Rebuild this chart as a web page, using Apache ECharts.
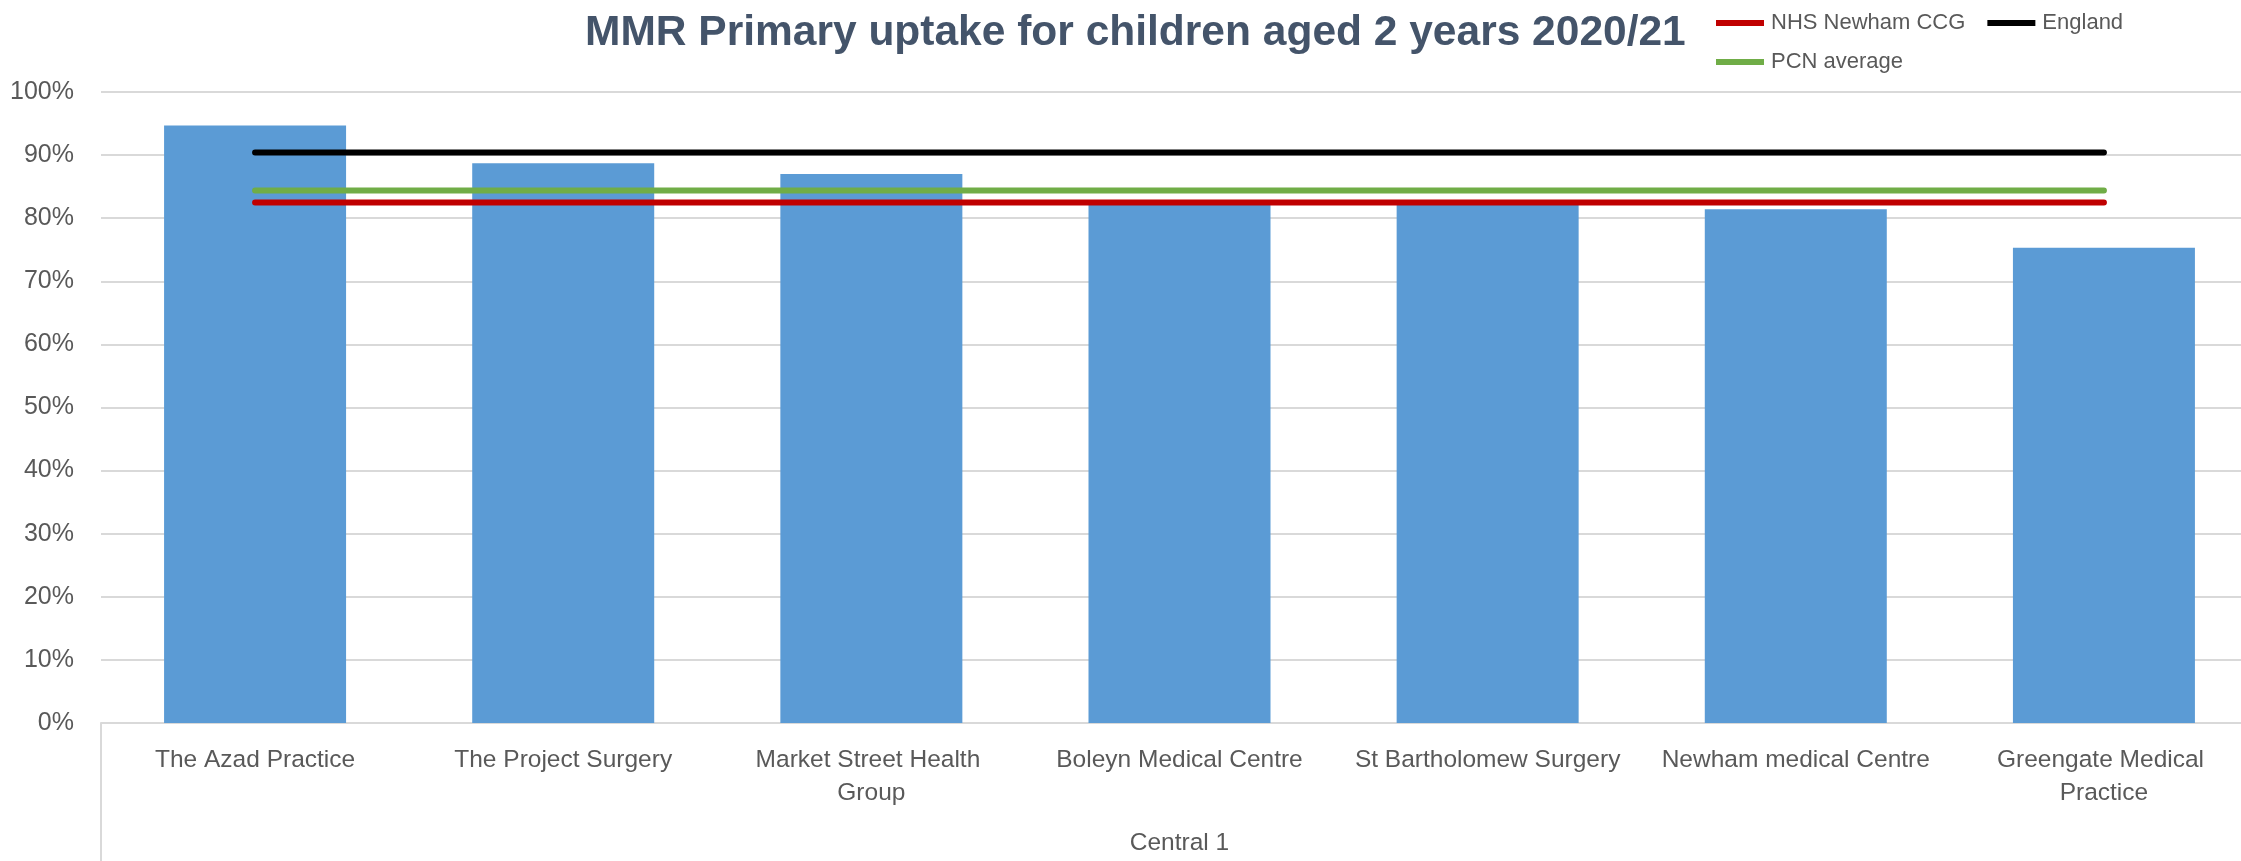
<!DOCTYPE html>
<html>
<head>
<meta charset="utf-8">
<script src="https://cdn.jsdelivr.net/npm/echarts@6/dist/echarts.min.js"></script>
<style>
  html, body { margin: 0; padding: 0; background: #ffffff; overflow: hidden; width: 2241px; height: 861px; }
  #chart { width: 2260px; height: 861px; }
</style>
</head>
<body>
<div id="chart"></div>
<script>
const titleText = 'MMR Primary uptake for children aged 2 years 2020/21';
const practices = ['The Azad Practice', 'The Project Surgery', 'Market Street Health Group', 'Boleyn Medical Centre', 'St Bartholomew Surgery', 'Newham medical Centre', 'Greengate Medical Practice'];
const groupLabels = ['Central 1'];
const uptake = [94.7, 88.7, 87.0, 82.2, 82.3, 81.4, 75.3];
const ccgValue = [82.5, 82.5, 82.5, 82.5, 82.5, 82.5, 82.5];
const englandValue = [90.4, 90.4, 90.4, 90.4, 90.4, 90.4, 90.4];
const pcnValue = [84.4, 84.4, 84.4, 84.4, 84.4, 84.4, 84.4];

const FONT = '"Liberation Sans", Arial, sans-serif';
const chart = echarts.init(document.getElementById('chart'), null, { renderer: 'canvas' });

const lineIcon = 'path://M0,0 L40,0 L40,5 L0,5 Z';

chart.setOption({
  animation: false,
  backgroundColor: '#ffffff',
  title: {
    text: titleText,
    left: 580,
    top: 7,
    textStyle: { fontFamily: FONT, fontWeight: 'bold', fontSize: 42.5, color: '#44546A' }
  },
  legend: [
    {
      data: ['NHS Newham CCG', 'England'],
      left: 1711,
      top: 7,
      icon: lineIcon,
      itemWidth: 52,
      itemHeight: 6,
      itemGap: 22,
      textStyle: { fontFamily: FONT, fontSize: 22, color: '#595959' }
    },
    {
      data: ['PCN average'],
      left: 1711,
      top: 46,
      icon: lineIcon,
      itemWidth: 52,
      itemHeight: 6,
      textStyle: { fontFamily: FONT, fontSize: 22, color: '#595959' }
    }
  ],
  grid: { left: 101, right: 2, top: 92, bottom: 138, containLabel: false },
  xAxis: [
    {
      type: 'category',
      data: practices,
      axisLine: { show: true, lineStyle: { color: '#d9d9d9', width: 2 } },
      axisTick: { show: false },
      axisLabel: {
        interval: 0,
        margin: 21,
        fontFamily: FONT,
        fontSize: 24.5,
        color: '#595959',
        width: 275,
        overflow: 'break',
        lineHeight: 33
      }
    },
    {
      type: 'category',
      data: groupLabels,
      position: 'bottom',
      axisLine: { show: false },
      axisTick: { show: true, length: 140, lineStyle: { color: '#d9d9d9', width: 2 } },
      axisLabel: { margin: 108, fontFamily: FONT, fontSize: 24.5, color: '#595959' }
    }
  ],
  yAxis: {
    type: 'value',
    min: 0,
    max: 100,
    interval: 10,
    axisLine: { show: false },
    axisTick: { show: false },
    splitLine: { lineStyle: { color: '#d9d9d9', width: 2 } },
    axisLabel: {
      margin: 27,
      fontFamily: FONT,
      fontSize: 25,
      color: '#595959',
      formatter: v => v + '%'
    }
  },
  series: [
    {
      name: 'Uptake',
      type: 'bar',
      data: uptake,
      barWidth: 182,
      itemStyle: { color: '#5B9BD5' },
      z: 1
    },
    {
      name: 'NHS Newham CCG',
      type: 'line',
      data: ccgValue,
      symbol: 'none',
      lineStyle: { color: '#C00000', width: 6, cap: 'round' },
      itemStyle: { color: '#C00000' },
      z: 3
    },
    {
      name: 'England',
      type: 'line',
      data: englandValue,
      symbol: 'none',
      lineStyle: { color: '#000000', width: 6, cap: 'round' },
      itemStyle: { color: '#000000' },
      z: 3
    },
    {
      name: 'PCN average',
      type: 'line',
      data: pcnValue,
      symbol: 'none',
      lineStyle: { color: '#70AD47', width: 6, cap: 'round' },
      itemStyle: { color: '#70AD47' },
      z: 3
    }
  ]
});
</script>
</body>
</html>
